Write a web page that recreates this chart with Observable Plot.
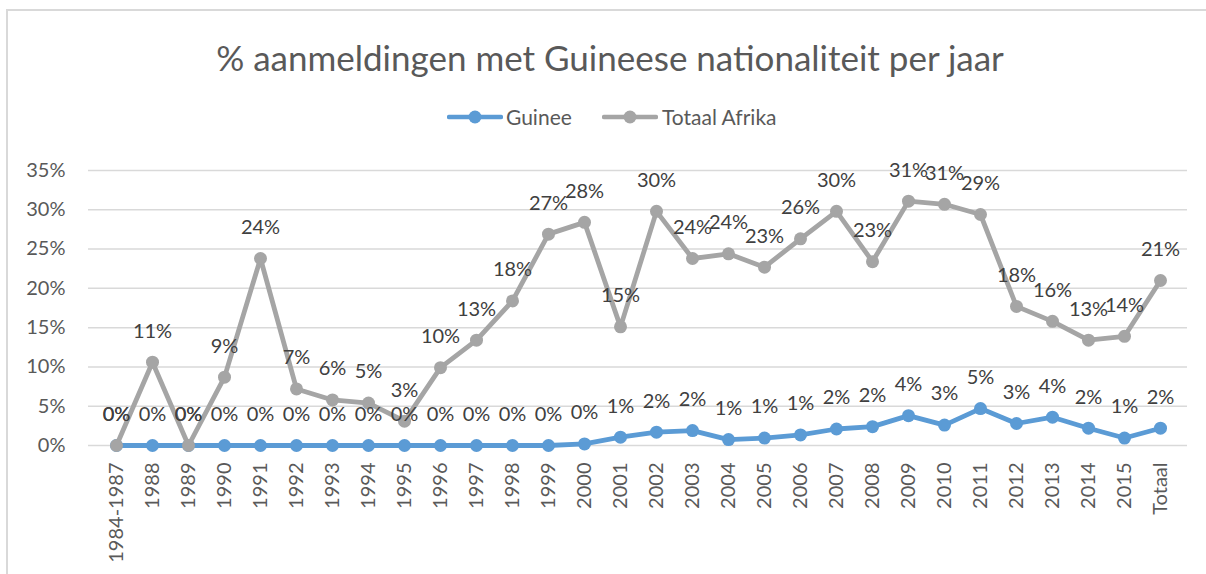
<!DOCTYPE html>
<html>
<head>
<meta charset="utf-8">
<script src="https://cdn.jsdelivr.net/npm/d3@7"></script>
<script src="https://cdn.jsdelivr.net/npm/@observablehq/plot@0.6"></script>
<style>
  html, body { margin: 0; padding: 0; background: #fff; }
  #chart { position: relative; width: 1206px; height: 574px; overflow: hidden; font-family: Lato, "Open Sans", sans-serif; }
  #frame { position: absolute; left: 6px; top: 9px; width: 1300px; height: 700px; border-left: 2px solid #d9d9d9; border-top: 2px solid #d9d9d9; }
  #title { position: absolute; left: 0; width: 1220px; top: 36px; text-align: center; font-size: 35px; color: #595959; line-height: 42px; }
  #legend { position: absolute; top: 104px; left: 0; height: 26px; }
  .lg { position: absolute; top: 0; font-size: 21px; color: #595959; line-height: 26px; white-space: nowrap; }
  #plot { position: absolute; left: 0; top: 150px; }
</style>
</head>
<body>
<div id="chart">
  <div id="frame"></div>
  <div id="title">% aanmeldingen met Guineese nationaliteit per jaar</div>
  <div id="legend"></div>
  <div id="plot"></div>
</div>
<script>
const categories = ["1984-1987","1988","1989","1990","1991","1992","1993","1994","1995","1996","1997","1998","1999","2000","2001","2002","2003","2004","2005","2006","2007","2008","2009","2010","2011","2012","2013","2014","2015","Totaal"];
const guinee = [0,0,0,0,0,0,0,0,0,0,0,0,0,0.2,1.06,1.7,1.9,0.75,0.95,1.35,2.1,2.4,3.8,2.6,4.7,2.8,3.6,2.2,0.95,2.2];
const totaalAfrika = [0,10.6,0,8.7,23.8,7.2,5.8,5.4,3.1,9.9,13.4,18.4,26.9,28.4,15.1,29.8,23.8,24.4,22.7,26.3,29.8,23.4,31.1,30.7,29.4,17.7,15.8,13.4,13.9,21.0];
const yTicks = [0,5,10,15,20,25,30,35];
const seriesNames = ["Guinee","Totaal Afrika"];
const seriesColors = ["#5B9BD5","#A5A5A5"];

const rows = [];
seriesNames.forEach((s, si) => {
  const vals = si === 0 ? guinee : totaalAfrika;
  categories.forEach((c, i) => rows.push({series: s, cat: c, value: vals[i]}));
});
const gRows = rows.filter(d => d.series === "Guinee");
const aRows = rows.filter(d => d.series === "Totaal Afrika");
const lbl = d => Math.round(d.value) + "%";

const plot = Plot.plot({
  width: 1206,
  height: 424,
  marginTop: 20,
  marginBottom: 129,
  marginLeft: 88,
  marginRight: 19,
  style: { fontFamily: "Lato, 'Open Sans', sans-serif", fontSize: "20px", color: "#595959", background: "transparent" },
  x: { type: "point", domain: categories, padding: 0.5, label: null },
  y: { domain: [0, 35], label: null },
  marks: [
    Plot.gridY(yTicks, { stroke: "#d9d9d9", strokeOpacity: 1, strokeWidth: 1.5 }),
    Plot.axisY(yTicks, { tickSize: 0, tickPadding: 23, tickFormat: d => d + "%", fontSize: 20, fill: "#595959", label: null }),
    Plot.axisX({ tickSize: 0, tickPadding: 17, tickRotate: -90, fontSize: 20, fill: "#595959", label: null }),
    Plot.line(gRows, { x: "cat", y: "value", stroke: seriesColors[0], strokeWidth: 4.8 }),
    Plot.dot(gRows, { x: "cat", y: "value", fill: seriesColors[0], r: 6.5 }),
    Plot.line(aRows, { x: "cat", y: "value", stroke: seriesColors[1], strokeWidth: 4.8 }),
    Plot.dot(aRows, { x: "cat", y: "value", fill: seriesColors[1], r: 6.5 }),
    Plot.text(rows, { x: "cat", y: "value", text: lbl, dy: -31, fill: "#404040", fontSize: 20 })
  ]
});
document.getElementById("plot").appendChild(plot);

// legend
const legend = document.getElementById("legend");
const lgPos = [{line: 447, text: 506}, {line: 602, text: 662}];
seriesNames.forEach((s, i) => {
  const sw = document.createElementNS("http://www.w3.org/2000/svg", "svg");
  sw.setAttribute("width", 56); sw.setAttribute("height", 26);
  sw.style.position = "absolute"; sw.style.left = lgPos[i].line + "px"; sw.style.top = "0px";
  sw.innerHTML = `<line x1="2" x2="54" y1="13" y2="13" stroke="${seriesColors[i]}" stroke-width="4.5" stroke-linecap="round"/><circle cx="28" cy="13" r="6.5" fill="${seriesColors[i]}"/>`;
  legend.appendChild(sw);
  const t = document.createElement("div");
  t.className = "lg"; t.style.left = lgPos[i].text + "px"; t.textContent = s;
  legend.appendChild(t);
});
</script>
</body>
</html>
